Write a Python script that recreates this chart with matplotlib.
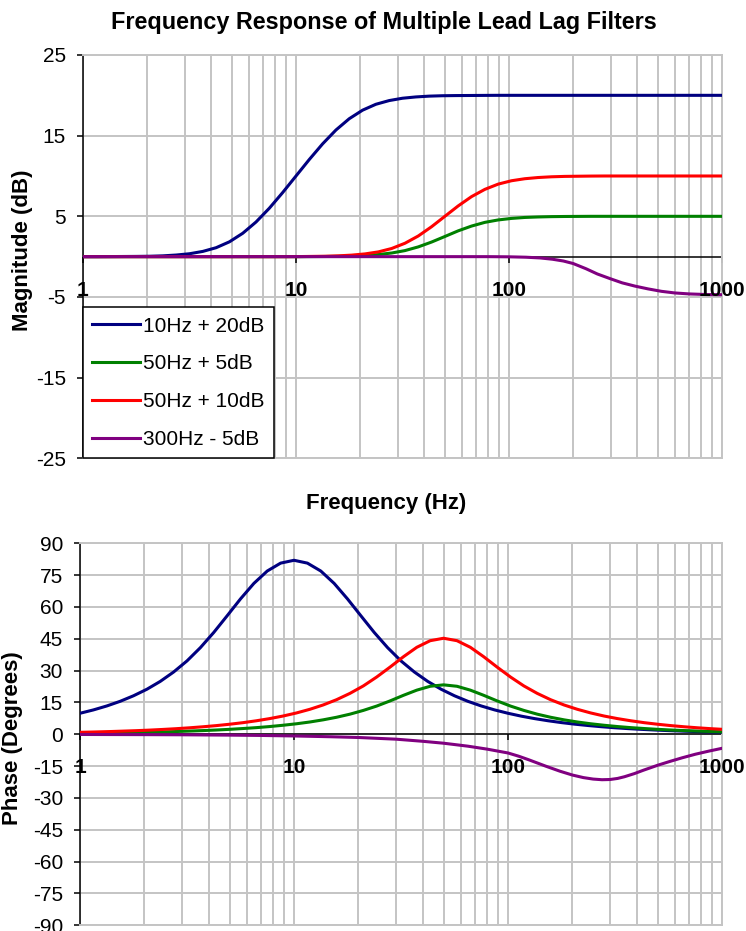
import matplotlib
matplotlib.use("Agg")
import matplotlib.pyplot as plt
from matplotlib.ticker import LogLocator, NullFormatter, FixedLocator

plt.rcParams['font.family'] = ['Liberation Sans', 'DejaVu Sans']
plt.rcParams['axes.unicode_minus'] = False

# ---------------- data ----------------
series_names = ["10Hz + 20dB", "50Hz + 5dB", "50Hz + 10dB", "300Hz - 5dB"]
series_colors = ["#000080", "#008000", "#ff0000", "#800080"]

# 10 Hz +20 dB filter
blue_freq = [1.000, 1.155, 1.334, 1.540, 1.778, 2.054, 2.371, 2.738, 3.162, 3.652,
             4.217, 4.870, 5.623, 6.494, 7.499, 8.660, 10.00, 11.55, 13.34, 15.40,
             17.78, 20.54, 23.71, 27.38, 31.62, 36.52, 42.17, 48.70, 56.23, 64.94,
             74.99, 86.60, 100.0, 115.5, 133.4, 154.0, 177.8, 205.4, 237.1, 273.8,
             316.2, 365.2, 421.7, 487.0, 562.3, 649.4, 749.9, 866.0, 1000.0]
blue_mag = [0.00, 0.00, 0.01, 0.02, 0.03, 0.05, 0.10, 0.20, 0.36, 0.65,
            1.11, 1.84, 2.90, 4.30, 6.01, 7.95, 10.00, 12.05, 13.99, 15.70,
            17.10, 18.16, 18.89, 19.35, 19.64, 19.80, 19.90, 19.95, 19.97, 19.98,
            19.99, 20.00, 20.00, 20.00, 20.00, 20.00, 20.00, 20.00, 20.00, 20.00,
            20.00, 20.00, 20.00, 20.00, 20.00, 20.00, 20.00, 20.00, 20.00]
blue_phase = [9.91, 11.49, 13.35, 15.54, 18.15, 21.23, 24.92, 29.35, 34.58, 40.83,
              47.99, 55.84, 63.80, 71.11, 76.94, 80.66, 82.00, 80.66, 76.94, 71.11,
              63.80, 55.84, 47.99, 40.83, 34.58, 29.35, 24.92, 21.23, 18.15, 15.54,
              13.35, 11.49, 9.91, 8.54, 7.38, 6.38, 5.51, 4.77, 4.13, 3.57,
              3.08, 2.67, 2.32, 2.01, 1.74, 1.51, 1.30, 1.13, 0.98]

# 50 Hz filters (shared frequency list)
mid_freq = [0.889, 1.027, 1.186, 1.369, 1.581, 1.826, 2.109, 2.435, 2.812, 3.247,
            3.749, 4.330, 5.000, 5.774, 6.668, 7.700, 8.891, 10.27, 11.86, 13.69,
            15.81, 18.26, 21.09, 24.35, 28.12, 32.47, 37.49, 43.30, 50.00, 57.74,
            66.68, 77.00, 88.91, 102.7, 118.6, 136.9, 158.1, 182.6, 210.9, 243.5,
            281.2, 324.7, 374.9, 433.0, 500.0, 577.4, 666.8, 770.0, 889.1, 1027.0]
green_mag = [0.00, 0.00, 0.00, 0.00, 0.00, 0.00, 0.00, 0.00, 0.00, 0.00,
             0.00, 0.00, 0.00, 0.00, 0.00, 0.00, 0.00, 0.00, 0.01, 0.02,
             0.04, 0.08, 0.14, 0.26, 0.45, 0.75, 1.21, 1.81, 2.50, 3.20,
             3.79, 4.25, 4.55, 4.74, 4.86, 4.92, 4.96, 4.98, 4.99, 5.00,
             5.00, 5.00, 5.00, 5.00, 5.00, 5.00, 5.00, 5.00, 5.00, 5.00]
green_phase = [0.41, 0.47, 0.55, 0.64, 0.73, 0.85, 0.98, 1.12, 1.31, 1.52,
               1.75, 2.02, 2.34, 2.72, 3.14, 3.65, 4.26, 4.96, 5.80, 6.82,
               8.03, 9.49, 11.26, 13.31, 15.74, 18.37, 20.81, 22.63, 23.30, 22.63,
               20.81, 18.37, 15.74, 13.31, 11.26, 9.49, 8.03, 6.82, 5.80, 4.96,
               4.26, 3.65, 3.14, 2.72, 2.34, 2.02, 1.75, 1.52, 1.31, 1.12]
red_mag = [0.00, 0.00, 0.00, 0.00, 0.00, 0.00, 0.00, 0.00, 0.00, 0.00,
           0.00, 0.00, 0.00, 0.00, 0.00, 0.00, 0.00, 0.01, 0.03, 0.05,
           0.10, 0.19, 0.34, 0.59, 1.01, 1.66, 2.56, 3.71, 5.00, 6.29,
           7.44, 8.34, 8.99, 9.41, 9.66, 9.81, 9.90, 9.95, 9.97, 9.99,
           10.00, 10.00, 10.00, 10.00, 10.00, 10.00, 10.00, 10.00, 10.00, 10.00]
red_phase = [0.83, 0.96, 1.11, 1.28, 1.49, 1.71, 1.97, 2.29, 2.64, 3.06,
             3.54, 4.09, 4.74, 5.48, 6.37, 7.40, 8.61, 10.06, 11.78, 13.83,
             16.31, 19.29, 22.80, 27.00, 31.68, 36.55, 41.00, 44.11, 45.26, 44.11,
             41.00, 36.55, 31.68, 27.00, 22.80, 19.29, 16.31, 13.83, 11.78, 10.06,
             8.61, 7.40, 6.37, 5.48, 4.74, 4.09, 3.54, 3.06, 2.64, 2.29]

# 300 Hz -5 dB filter
purple_mag_freq = [1, 10, 50, 80, 100, 120, 140, 160, 180, 200, 230, 260, 300,
                   340, 390, 450, 520, 600, 700, 850, 1000]
purple_mag = [0.00, 0.00, 0.00, 0.00, -0.02, -0.07, -0.16, -0.32, -0.54, -0.85,
              -1.50, -2.15, -2.75, -3.25, -3.65, -4.00, -4.30, -4.50, -4.62, -4.70, -4.72]
purple_phase_freq = [1, 2, 3, 5, 7, 10, 15, 20, 30, 40, 50, 65, 80, 100, 112, 125,
                     150, 175, 200, 225, 250, 275, 300, 325, 350, 390, 430, 500,
                     570, 650, 750, 870, 1000]
purple_phase = [-0.08, -0.16, -0.23, -0.39, -0.54, -0.78, -1.16, -1.50, -2.30, -3.30,
                -4.20, -5.60, -7.00, -8.80, -10.30, -12.00, -15.00, -17.40, -19.20,
                -20.40, -21.10, -21.40, -21.30, -20.80, -20.00, -18.50, -16.90,
                -14.60, -12.80, -11.10, -9.40, -7.90, -6.60]

mag_ticks = [-25, -15, -5, 5, 15, 25]
phase_ticks = [-90, -75, -60, -45, -30, -15, 0, 15, 30, 45, 60, 75, 90]
decades = [1, 10, 100, 1000]
decade_labels = ["1", "10", "100", "1000"]

title_text = "Frequency Response of Multiple Lead Lag Filters"
xlabel_text = "Frequency (Hz)"
ylabel_top = "Magnitude (dB)"
ylabel_bot = "Phase (Degrees)"

# ---------------- figure ----------------
W, H = 746, 931
fig = plt.figure(figsize=(W / 100, H / 100), dpi=100)
ax1 = fig.add_axes([83 / W, 1 - 458.3 / H, 639 / W, (458.3 - 55) / H])
ax2 = fig.add_axes([80 / W, 1 - 925.3 / H, 642 / W, (925.3 - 543.3) / H])

grid_color = "#c4c4c4"
lw_curve = 2.2


def style_axes(ax, ylim, yticks, label_off):
    ax.set_xscale("log")
    ax.set_xlim(1, 1000)
    ax.set_ylim(*ylim)
    ax.xaxis.set_major_locator(FixedLocator(decades))
    ax.xaxis.set_minor_locator(LogLocator(base=10, subs=range(2, 10)))
    ax.xaxis.set_major_formatter(NullFormatter())
    ax.xaxis.set_minor_formatter(NullFormatter())
    ax.tick_params(axis="x", which="both", length=0)
    ax.set_yticks(yticks)
    ax.tick_params(axis="y", which="major", direction="out", length=4.3, width=1.1,
                   pad=8.0, labelsize=15, colors="black")
    ax.grid(True, which="both", axis="x", color=grid_color, lw=1.4, zorder=0)
    ax.grid(True, which="major", axis="y", color=grid_color, lw=1.4, zorder=0)
    ax.set_axisbelow(True)
    for s in ["top", "right", "bottom"]:
        ax.spines[s].set_color(grid_color)
        ax.spines[s].set_linewidth(1.4)
    ax.spines["left"].set_color("black")
    ax.spines["left"].set_linewidth(1.1)
    ax.axhline(0, color="black", lw=1.1, zorder=1.5)
    ax.plot(decades, [0] * len(decades), linestyle="none", marker=3, markersize=4.3,
            mew=1.1, color="black", zorder=1.5, clip_on=False)
    for d, lab in zip(decades, decade_labels):
        ax.annotate(lab, xy=(d, 0), xytext=(0, -label_off), textcoords="offset pixels",
                    ha="center", va="center", fontsize=15, fontweight="bold",
                    annotation_clip=False, zorder=5)


style_axes(ax1, (-25, 25), mag_ticks, 34)
style_axes(ax2, (-90, 90), phase_ticks, 33)

# magnitude
h_blue, = ax1.plot(blue_freq, blue_mag, color=series_colors[0], lw=lw_curve, zorder=3)
h_green, = ax1.plot(mid_freq, green_mag, color=series_colors[1], lw=lw_curve, zorder=3)
h_red, = ax1.plot(mid_freq, red_mag, color=series_colors[2], lw=lw_curve, zorder=3)
h_purple, = ax1.plot(purple_mag_freq, purple_mag, color=series_colors[3], lw=lw_curve, zorder=3)

# phase
ax2.plot(blue_freq, blue_phase, color=series_colors[0], lw=lw_curve, zorder=3)
ax2.plot(mid_freq, green_phase, color=series_colors[1], lw=lw_curve, zorder=3)
ax2.plot(mid_freq, red_phase, color=series_colors[2], lw=lw_curve, zorder=3)
ax2.plot(purple_phase_freq, purple_phase, color=series_colors[3], lw=lw_curve, zorder=3)

leg = ax1.legend([h_blue, h_green, h_red, h_purple], series_names,
                 loc="lower left", bbox_to_anchor=(0, 0), borderaxespad=0,
                 fontsize=15, handlelength=2.3, handletextpad=0.15, labelspacing=0.9,
                 borderpad=0.45, fancybox=False, framealpha=1, edgecolor="black")
leg.get_frame().set_linewidth(1.1)
leg.set_zorder(6)

fig.text(383.5 / W, 1 - 22 / H, title_text, ha="center", va="center",
         fontsize=16.85, fontweight="bold")
fig.text(386 / W, 1 - 504 / H, xlabel_text, ha="center", va="center",
         fontsize=16, fontweight="bold")
fig.text(23 / W, 1 - 250 / H, ylabel_top, ha="center", va="center", rotation=90,
         fontsize=16, fontweight="bold")
fig.text(12.5 / W, 1 - 738 / H, ylabel_bot, ha="center", va="center", rotation=90,
         fontsize=16, fontweight="bold")

fig.savefig("out.png", dpi=100)
